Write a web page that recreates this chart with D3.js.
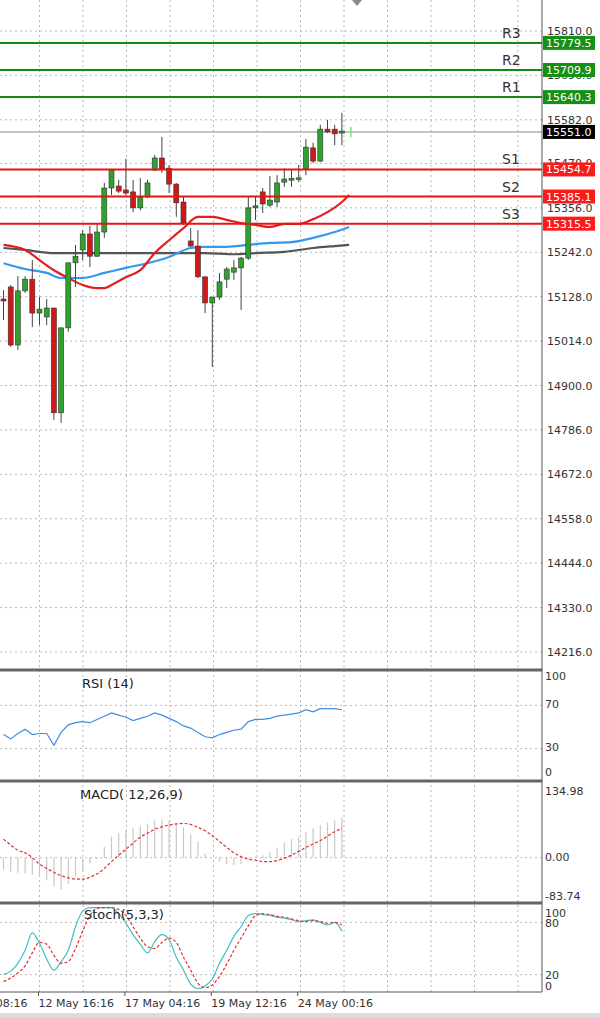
<!DOCTYPE html>
<html><head><meta charset="utf-8">
<script src="https://cdn.jsdelivr.net/npm/d3@7"></script>
<style>body{margin:0;background:#fff}svg{display:block}text{font-family:"DejaVu Sans",sans-serif}</style>
</head><body><svg id="c" width="600" height="1017"></svg>
<script>
const open  = [15122,15153,15004,15143,15173,15086,15076,15099,14830,15048,15215,15248,15289,15232,15294,15407,15412,15402,15397,15356,15384,15453,15484,15458,15417,15371,15271,15258,15179,15112,15127,15173,15191,15202,15227,15356,15397,15363,15371,15422,15428,15430,15456,15510,15476,15558,15558,15548];
const high  = [15145,15158,15181,15181,15222,15127,15122,15099,15048,15215,15261,15299,15310,15317,15420,15453,15428,15482,15428,15433,15428,15492,15538,15466,15420,15384,15304,15299,15179,15127,15189,15204,15222,15230,15384,15384,15407,15438,15440,15458,15456,15466,15533,15523,15569,15582,15569,15600];
const low   = [15068,14999,14991,15138,15050,15055,15055,14812,14804,15038,15153,15222,15204,15230,15279,15389,15394,15389,15345,15350,15381,15451,15446,15394,15333,15312,15256,15176,15086,14948,15120,15150,15171,15094,15222,15325,15343,15358,15358,15410,15410,15422,15440,15471,15474,15548,15517,15517];
const close = [15117,15004,15143,15173,15086,15096,15099,14830,15048,15215,15232,15289,15232,15294,15407,15453,15399,15394,15356,15384,15420,15484,15456,15417,15369,15317,15258,15179,15112,15127,15166,15199,15202,15227,15356,15361,15366,15376,15420,15430,15431,15433,15512,15476,15558,15551,15546,15553];
const maRedIdx = [0,3,5,7,9,11,13,14,15,17,19,21,23,25,27,29,31,33,35,37,39,41,43,45,47,48];
const maRed    = [15261,15248,15222,15196,15176,15158,15150,15150,15158,15178,15196,15240,15273,15304,15333,15333,15325,15317,15312,15307,15315,15315,15327,15345,15371,15389];
const maBlueIdx= [0,3,6,8,11,14,17,20,23,26,28,31,34,37,40,43,46,48];
const maBlue   = [15214,15199,15189,15176,15176,15189,15202,15214,15230,15253,15256,15256,15261,15266,15268,15279,15294,15307];
const maGrayIdx= [0,3,7,11,15,20,25,28,32,35,39,43,46,48];
const maGray   = [15253,15248,15240,15240,15240,15240,15240,15240,15237,15240,15243,15253,15258,15261];
const pivotNames = ["R3","R2","R1","S1","S2","S3"];
const pivotVals  = [15779.5,15709.9,15640.3,15454.7,15385.1,15315.5];
const lastPrice = 15551.0;
const priceTicks = [15810,15696,15582,15470,15356,15242,15128,15014,14900,14786,14672,14558,14444,14330,14216];
const rsi = [43,39,44,48,43,44,44,33,45,52,54,55,54,57,60,63,61,59,56,58,60,63,61,58,55,51,49,45,41,40,43,45,47,48,55,57,57,58,60,61,62,63,66,64,67,67,67,66];
const macdHist = [-25,-29,-31,-32,-35,-39,-46,-59,-65,-54,-39,-25,-12,-3,22,43,51,57,61,65,70,76,78,76,70,62,48,33,9,0,-8,-13,-15,-13,-3,2,5,12,21,31,38,43,53,60,67,72,76,82];
const macdSig  = [38,26,15,10,0,-13,-22,-30,-37,-41,-44,-44,-40,-33,-22,-8,5,17,30,42,50,58,63,67,69,70,68,62,55,45,33,21,10,2,-3,-5,-8,-8,-6,-1,5,13,21,28,35,44,53,60];
const stochK = [20,24,33,48,68,56,38,25,35,48,75,93,97,97,97,97,90,79,66,55,45,58,66,60,40,25,9,4,7,15,33,48,64,75,88,90,89,88,86,85,83,81,82,83,80,77,80,70];
const stochD = [12,16,22,30,45,57,55,42,33,35,50,70,88,96,97,97,95,88,75,62,52,50,57,62,57,40,25,10,5,8,18,32,48,62,76,88,90,89,87,86,84,82,81,82,81,79,80,77];
const dateLabels = ["11 May 08:16","12 May 16:16","17 May 04:16","19 May 12:16","24 May 00:16"];
const dateIdx = [-7,5,17,29,41];

const svg = d3.select("#c");
const AX = 542;
const x = d3.scaleLinear().domain([0,47]).range([3.5,341.9]);
const yP = d3.scaleLinear().domain([14216,15810]).range([652,31]);
const yR = d3.scaleLinear().domain([0,100]).range([781,673]);
const yM = d3.scaleLinear().domain([-83.74,134.98]).range([898.6,791.7]);
const yS = d3.scaleLinear().domain([0,100]).range([992,905]);
const gridStyle = s => s.attr("stroke","#b8b8b8").attr("stroke-dasharray","2,3").attr("stroke-width",1);

// vertical grid
const vg = d3.range(-1,12).map(k=>x(5)+43.5*k - 43.5*0);
svg.append("g").selectAll("line").data(d3.range(-1,12)).join("line")
  .attr("x1",k=>x(5)+43.5*k).attr("x2",k=>x(5)+43.5*k).attr("y1",0).attr("y2",992).call(gridStyle);
// horizontal grids
svg.append("g").selectAll("line").data(priceTicks).join("line")
  .attr("x1",0).attr("x2",AX).attr("y1",d=>yP(d)).attr("y2",d=>yP(d)).call(gridStyle);
[[yR,[70,30]],[yM,[0]],[yS,[80,20]]].forEach(([s,v])=>{
  svg.append("g").selectAll("line").data(v).join("line")
   .attr("x1",0).attr("x2",AX).attr("y1",d=>s(d)).attr("y2",d=>s(d)).call(gridStyle);
});
// price labels
svg.append("g").selectAll("text").data(priceTicks).join("text")
  .attr("x",AX+5).attr("y",d=>yP(d)+4).attr("font-size",11).attr("fill","#333").text(d=>d.toFixed(1));

// last price line
svg.append("line").attr("x1",0).attr("x2",AX).attr("y1",yP(lastPrice)).attr("y2",yP(lastPrice)).attr("stroke","#b0b0b0").attr("stroke-width",1.5);

// MAs
const line = d3.line().curve(d3.curveMonotoneX);
function ma(idx,vals,col){
  svg.append("path").attr("d",line(idx.map((i,k)=>[x(i),yP(vals[k])]))).attr("fill","none").attr("stroke",col).attr("stroke-width",2.2);
}
ma(maGrayIdx,maGray,"#555");
ma(maBlueIdx,maBlue,"#3399ee");
ma(maRedIdx,maRed,"#e02020");

// candles
const cg = svg.append("g");
open.forEach((o,i)=>{
  const c=close[i], up=c>=o;
  cg.append("line").attr("x1",x(i)).attr("x2",x(i)).attr("y1",yP(high[i])).attr("y2",yP(low[i])).attr("stroke","#444").attr("stroke-width",1);
  const t=yP(Math.max(o,c)), b=yP(Math.min(o,c));
  cg.append("rect").attr("x",x(i)-2.5).attr("width",5).attr("y",t).attr("height",Math.max(1.5,b-t))
    .attr("fill",up?"#2fa12f":"#d01818").attr("stroke","#333").attr("stroke-width",0.6);
});
svg.append("line").attr("x1",x(47)+9).attr("x2",x(47)+9).attr("y1",yP(lastPrice)-5).attr("y2",yP(lastPrice)+5).attr("stroke","#7ee07e").attr("stroke-width",1.5);

// pivots
pivotVals.forEach((v,k)=>{
  const isR = pivotNames[k][0]==="R", col = isR?"#138a13":"#e61414", y=yP(v);
  svg.append("line").attr("x1",0).attr("x2",AX).attr("y1",y).attr("y2",y).attr("stroke",col).attr("stroke-width",2);
  svg.append("text").attr("x",502).attr("y",y-5).attr("font-size",14).attr("fill","#333").text(pivotNames[k]);
  svg.append("rect").attr("x",AX+1).attr("y",y-7).attr("width",52).attr("height",14).attr("fill",isR?"#159015":"#ff1a1a");
  svg.append("text").attr("x",AX+4).attr("y",y+4).attr("font-size",11).attr("fill","#fff").text(v.toFixed(1));
});
svg.append("rect").attr("x",AX+1).attr("y",yP(lastPrice)-7).attr("width",52).attr("height",14).attr("fill","#000");
svg.append("text").attr("x",AX+4).attr("y",yP(lastPrice)+4).attr("font-size",11).attr("fill","#fff").text(lastPrice.toFixed(1));
svg.append("path").attr("d","M352,0 L362,0 L357,6 Z").attr("fill","#888");

// panel separators
[670,781,903].forEach(y=>svg.append("rect").attr("x",0).attr("y",y-1.5).attr("width",AX).attr("height",3).attr("fill","#666"));
svg.append("line").attr("x1",0).attr("x2",AX).attr("y1",992).attr("y2",992).attr("stroke","#555");
svg.append("line").attr("x1",AX).attr("x2",AX).attr("y1",0).attr("y2",992).attr("stroke","#555");

// RSI
svg.append("path").attr("d",d3.line()(rsi.map((v,i)=>[x(i),yR(v)]))).attr("fill","none").attr("stroke","#3f8fe0").attr("stroke-width",1.2);
svg.append("text").attr("x",82).attr("y",688).attr("font-size",13).attr("fill","#222").text("RSI (14)");
[[100,680],[70,708],[30,751],[0,776]].forEach(([v,y])=>svg.append("text").attr("x",AX+3).attr("y",y).attr("font-size",11).attr("fill","#333").text(v));

// MACD
svg.append("g").selectAll("line").data(macdHist).join("line")
  .attr("x1",(d,i)=>x(i)).attr("x2",(d,i)=>x(i)).attr("y1",yM(0)).attr("y2",d=>yM(d)).attr("stroke","#c8c8c8").attr("stroke-width",1.2);
svg.append("path").attr("d",d3.line().curve(d3.curveMonotoneX)(macdSig.map((v,i)=>[x(i),yM(v)]))).attr("fill","none").attr("stroke","#e03030").attr("stroke-width",1.2).attr("stroke-dasharray","3,2");
svg.append("text").attr("x",80).attr("y",799).attr("font-size",13).attr("fill","#222").text("MACD( 12,26,9)");
[["134.98",795],["0.00",861],["-83.74",900]].forEach(([t,y])=>svg.append("text").attr("x",AX+3).attr("y",y).attr("font-size",11).attr("fill","#333").text(t));

// Stoch
svg.append("path").attr("d",d3.line().curve(d3.curveMonotoneX)(stochK.map((v,i)=>[x(i),yS(v)]))).attr("fill","none").attr("stroke","#40c0c0").attr("stroke-width",1.2);
svg.append("path").attr("d",d3.line().curve(d3.curveMonotoneX)(stochD.map((v,i)=>[x(i),yS(v)]))).attr("fill","none").attr("stroke","#e03030").attr("stroke-width",1.2).attr("stroke-dasharray","3,2");
svg.append("text").attr("x",84).attr("y",919).attr("font-size",13).attr("fill","#222").text("Stoch(5,3,3)");
[[100,917],[80,927],[20,979],[0,990]].forEach(([v,y])=>svg.append("text").attr("x",AX+3).attr("y",y).attr("font-size",11).attr("fill","#333").text(v));

// date axis
dateIdx.forEach((i,k)=>{
  const xx=x(i)-1;
  svg.append("line").attr("x1",xx).attr("x2",xx).attr("y1",992).attr("y2",996).attr("stroke","#555");
  svg.append("text").attr("x",xx).attr("y",1007).attr("font-size",11).attr("fill","#333").text(dateLabels[k]);
});
svg.append("rect").attr("x",0).attr("y",1013).attr("width",600).attr("height",4).attr("fill","#ddd");
</script></body></html>
